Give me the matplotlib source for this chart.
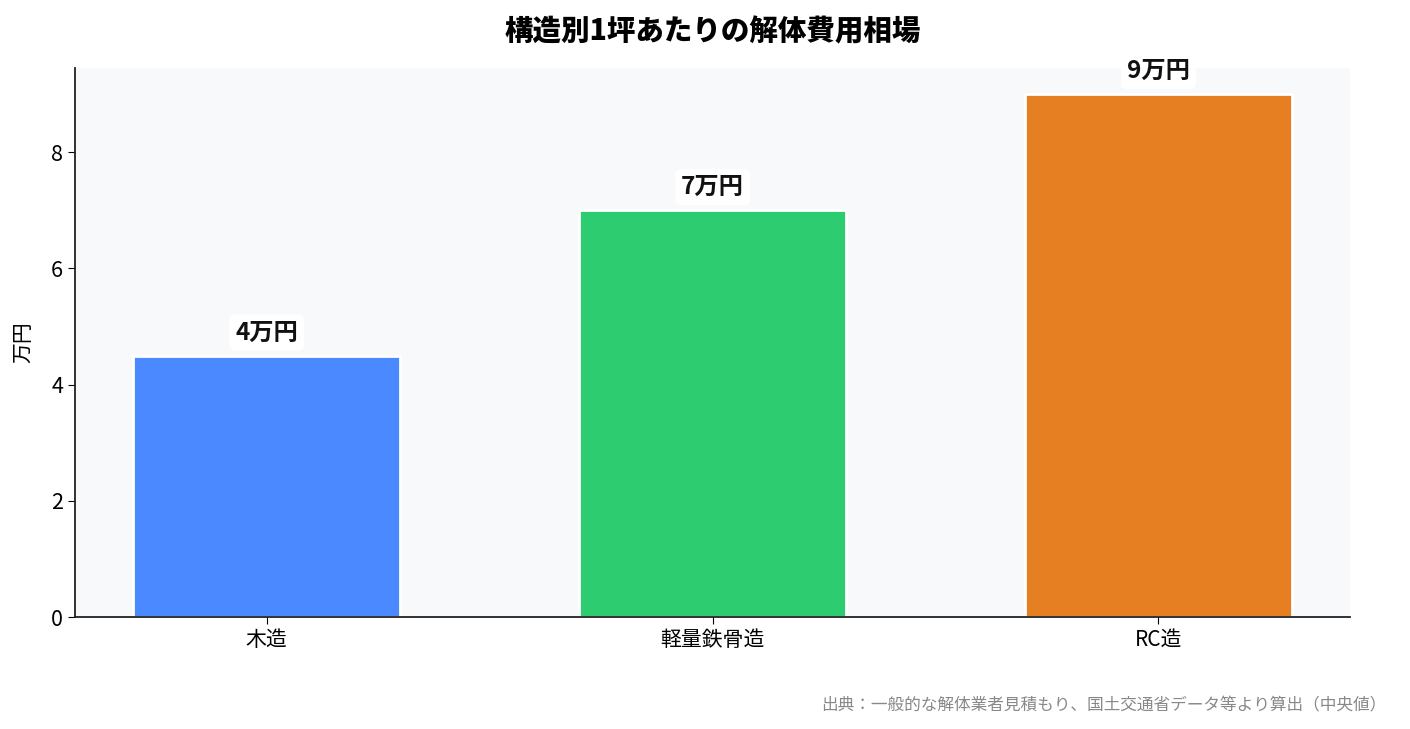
import matplotlib
matplotlib.use("Agg")
import matplotlib.pyplot as plt

categories = ["木造", "軽量鉄骨造", "RC造"]
values = [4.5, 7.0, 9.0]
value_labels = ["4万円", "7万円", "9万円"]
colors = ["#4a89ff", "#2ecc71", "#e67e22"]

plt.rcParams["font.family"] = ["Noto Sans CJK JP", "DejaVu Sans"]

fig = plt.figure(figsize=(14.1, 7.29), dpi=100)
ax = fig.add_axes([0.0532, 0.1536, 0.9043, 0.7531])
ax.set_facecolor("#f8f9fa")
bars = ax.bar(categories, values, color=colors, width=0.6,
              edgecolor="white", linewidth=2)
for b, lab in zip(bars, value_labels):
    ax.annotate(lab, (b.get_x() + b.get_width() / 2, b.get_height()),
                xytext=(0, 8), textcoords="offset points",
                ha="center", va="bottom", fontsize=17.5, fontweight="bold",
                color="#111111",
                bbox=dict(boxstyle="round,pad=0.25", fc="white", ec="none"))

ax.set_ylim(0, 9.45)
ax.set_yticks([0, 2, 4, 6, 8])
ax.set_ylabel("万円", fontsize=15, labelpad=12)
ax.set_title("構造別1坪あたりの解体費用相場", fontsize=20.5, fontweight="heavy", pad=20)
for s in ["top", "right"]:
    ax.spines[s].set_visible(False)
for s in ["left", "bottom"]:
    ax.spines[s].set_color("#222222")
    ax.spines[s].set_linewidth(1.3)
ax.tick_params(axis="y", labelsize=15.5, length=5)
ax.tick_params(axis="x", labelsize=15, length=5)

fig.text(0.983, 0.032, "出典：一般的な解体業者見積もり、国土交通省データ等より算出（中央値）",
         ha="right", va="center", fontsize=12, color="#888888")

plt.savefig("out.png", dpi=100)
